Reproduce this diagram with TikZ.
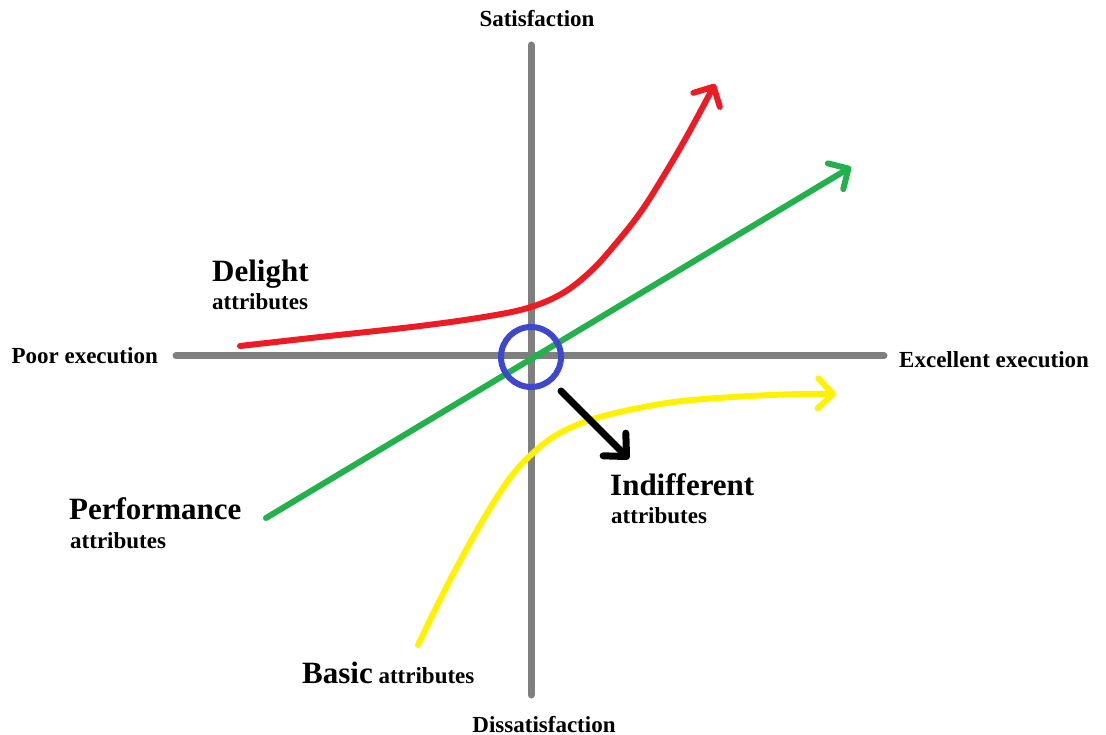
\documentclass[tikz,border=0pt]{standalone}
\usepackage{fontspec}
\setmainfont{Liberation Serif}
\usepackage{tikz}
\usetikzlibrary{arrows.meta,positioning}

\definecolor{axisgray}{HTML}{7F7F7F}
\definecolor{paintred}{HTML}{ED1C24}
\definecolor{paintgreen}{HTML}{22B14C}
\definecolor{paintyellow}{HTML}{FFF200}
\definecolor{paintblue}{HTML}{3F48CC}

\begin{document}
\begin{tikzpicture}[x=1pt,y=-1pt,line cap=round,
		axis/.style={axisgray,line width=7pt,line cap=round},
		curve/.style={line width=6pt,-{Straight Barb[length=15pt,width=30pt,round]}},
		small/.style={inner sep=0,font=\bfseries\fontsize{23}{23}\selectfont},
		big/.style={inner sep=0,font=\bfseries\fontsize{31}{31}\selectfont}]
		\useasboundingbox (0,0) rectangle (1106,735);

		\coordinate (top) at (531,45);
		\coordinate (bottom) at (531,695);
		\coordinate (left) at (176,356);
		\coordinate (right) at (884,356);

		\draw[axis] (top) -- (bottom);
		\draw[axis] (left) -- (right);

		\node[small,anchor=base] (sat) at (537,27) {Satisfaction};
		\node[small,anchor=base] (dissat) at (544,732) {Dissatisfaction};
		\node[small,anchor=base east] (poor) at (158,363) {Poor execution};
		\node[small,anchor=base west] (excellent) at (899,367) {Excellent execution};

		% delight
		\coordinate (d0) at (240,346);
		\coordinate (d1) at (715,84);
		\draw[curve,paintred] plot[smooth,tension=0.6] coordinates {(d0) (320,337) (420,326) (490,316) (531,307) (563,293) (590,272) (613,247) (640,213) (663,177) (687,136) (d1)};

		% performance
		\coordinate (p0) at (266,518);
		\coordinate (p1) at (851,167);
		\draw[curve,paintgreen] (p0) -- (p1);

		% basic
		\coordinate (b0) at (418,645);
		\coordinate (b1) at (836,394);
		\draw[curve,paintyellow] plot[smooth,tension=0.6] coordinates {(b0) (450,580) (483,520) (510,478) (533,453) (560,433) (600,417) (667,403) (733,397) (800,394) (b1)};

		% indifferent
		\node[draw=paintblue,circle,line width=6pt,minimum size=60pt,inner sep=0] (o) at (531,357) {};
		\coordinate (i0) at (561,391);
		\coordinate (i1) at (629,459);
		\draw[line width=7pt,-{Straight Barb[length=17pt,width=32pt,round]}] (i0) -- (i1);

		\node[big,anchor=base west] (delight) at (212,282) {Delight};
		\node[small,anchor=base west] (delightsub) at (212,310) {attributes};
		\node[big,anchor=base west] (perf) at (69,519) {Performance};
		\node[small,anchor=base west] (perfsub) at (70,548) {attributes};
		\node[big,anchor=base west] (indiff) at (610,495) {Indifferent};
		\node[small,anchor=base west] (indiffsub) at (611,523) {attributes};
		\node[small,anchor=base west] (basic) at (302,683) {{\fontsize{31}{31}\selectfont Basic} attributes};
	\end{tikzpicture}
\end{document}
